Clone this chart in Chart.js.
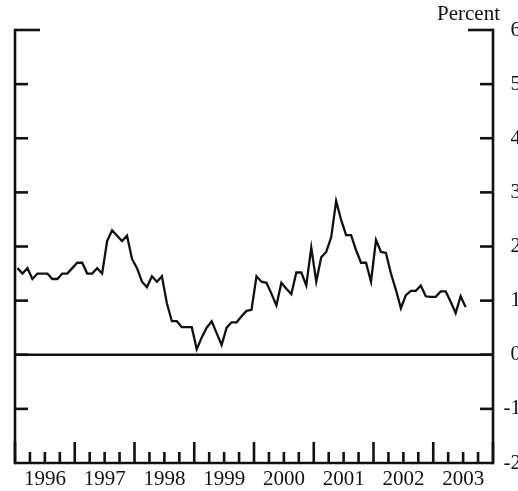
<!DOCTYPE html>
<html>
<head>
<meta charset="utf-8">
<script src="https://cdn.jsdelivr.net/npm/chart.js@4/dist/chart.umd.min.js"></script>
<style>
  html, body { margin: 0; padding: 0; background: #fff; overflow: hidden; }
  #wrap { width: 518px; height: 491px; position: relative; overflow: hidden; }
  #c { display: block; }
</style>
</head>
<body>
<div id="wrap"><canvas id="c" width="521" height="491"></canvas></div>
<script>
// Monthly values, Jan 1996 – Jul 2003 (percent)
const values1996 = [1.6, 1.5, 1.6, 1.4, 1.5, 1.5, 1.5, 1.4, 1.4, 1.5, 1.5, 1.6];
const values1997 = [1.7, 1.7, 1.5, 1.5, 1.6, 1.5, 2.1, 2.3, 2.2, 2.1, 2.2, 1.77];
const values1998 = [1.6, 1.35, 1.25, 1.45, 1.35, 1.45, 0.95, 0.62, 0.62, 0.51, 0.51, 0.51];
const values1999 = [0.1, 0.32, 0.5, 0.62, 0.4, 0.18, 0.5, 0.6, 0.6, 0.71, 0.81, 0.83];
const values2000 = [1.45, 1.35, 1.33, 1.13, 0.91, 1.33, 1.22, 1.12, 1.52, 1.52, 1.28, 1.98];
const values2001 = [1.35, 1.8, 1.9, 2.17, 2.84, 2.49, 2.21, 2.21, 1.93, 1.7, 1.7, 1.35];
const values2002 = [2.12, 1.9, 1.88, 1.5, 1.2, 0.86, 1.1, 1.18, 1.18, 1.28, 1.08, 1.07];
const values2003 = [1.07, 1.17, 1.17, 0.98, 0.77, 1.08, 0.88];

const yearLabels = ['1996', '1997', '1998', '1999', '2000', '2001', '2002', '2003'];
const yTickValues = [-2, -1, 0, 1, 2, 3, 4, 5, 6];
const unitLabel = 'Percent';

const series = [].concat(values1996, values1997, values1998, values1999,
                         values2000, values2001, values2002, values2003);
const points = series.map((v, i) => ({ x: i, y: v }));
const totalMonths = yearLabels.length * 12;

const FONT = { family: '"Liberation Serif", "Times New Roman", serif', size: 21 };

const framePlugin = {
  id: 'frame',
  afterDraw(chart) {
    const ctx = chart.ctx;
    const xs = chart.scales.x, ys = chart.scales.y;
    const a = chart.chartArea;
    ctx.save();
    ctx.strokeStyle = '#111';
    ctx.lineWidth = 2.6;
    ctx.lineCap = 'butt';
    const line = (x1, y1, x2, y2) => { ctx.beginPath(); ctx.moveTo(x1, y1); ctx.lineTo(x2, y2); ctx.stroke(); };
    // side axes
    line(a.left, a.top - 1.3, a.left, a.bottom + 1.3);
    line(a.right, a.top - 1.3, a.right, a.bottom + 1.3);
    // bottom
    line(a.left, a.bottom, a.right, a.bottom);
    // top corner pieces
    line(a.left, a.top, a.left + 25, a.top);
    line(a.right - 25, a.top, a.right, a.top);
    // y ticks inward
    yTickValues.forEach(v => {
      if (v <= ys.min || v >= ys.max) return;
      const py = ys.getPixelForValue(v);
      line(a.left, py, a.left + 13, py);
      line(a.right - 13, py, a.right, py);
    });
    // zero line
    const y0 = ys.getPixelForValue(0);
    line(a.left, y0, a.right, y0);
    // x ticks (quarters, years taller)
    for (let m = 0; m <= totalMonths; m += 3) {
      const px = xs.getPixelForValue(m - 0.5);
      const len = (m % 12 === 0) ? 21 : 11;
      line(px, a.bottom, px, a.bottom - len);
    }
    // unit label
    ctx.fillStyle = '#111';
    ctx.font = FONT.size + 'px ' + FONT.family;
    ctx.textAlign = 'right';
    ctx.textBaseline = 'alphabetic';
    ctx.fillText(unitLabel, 500, 20);
    ctx.restore();
  }
};

new Chart(document.getElementById('c'), {
  type: 'line',
  data: {
    datasets: [{
      data: points,
      borderColor: '#111',
      borderWidth: 2.3,
      pointRadius: 0,
      tension: 0,
      fill: false
    }]
  },
  options: {
    responsive: false,
    animation: false,
    layout: { padding: { top: 30, left: 15, right: 0, bottom: 0 } },
    plugins: { legend: { display: false }, tooltip: { enabled: false }, title: { display: false } },
    scales: {
      x: {
        type: 'linear',
        position: 'bottom',
        min: -0.5,
        max: totalMonths - 0.5,
        grid: { display: false, drawTicks: false },
        border: { display: false },
        afterBuildTicks: (axis) => {
          axis.ticks = yearLabels.map((_, k) => ({ value: k * 12 + 5.5 }));
        },
        afterFit: (axis) => { axis.height = 28; },
        ticks: {
          autoSkip: false,
          maxRotation: 0,
          padding: 4,
          color: '#111',
          font: FONT,
          callback: (value, index) => yearLabels[index]
        }
      },
      y: {
        type: 'linear',
        position: 'right',
        min: -2,
        max: 6,
        grid: { display: false, drawTicks: false },
        border: { display: false },
        afterBuildTicks: (axis) => {
          axis.ticks = yTickValues.map(v => ({ value: v }));
        },
        afterFit: (axis) => { axis.width = 28; },
        ticks: {
          padding: 9,
          crossAlign: 'far',
          color: '#111',
          font: FONT,
          callback: (value) => String(value)
        }
      }
    }
  },
  plugins: [framePlugin]
});
</script>
</body>
</html>
